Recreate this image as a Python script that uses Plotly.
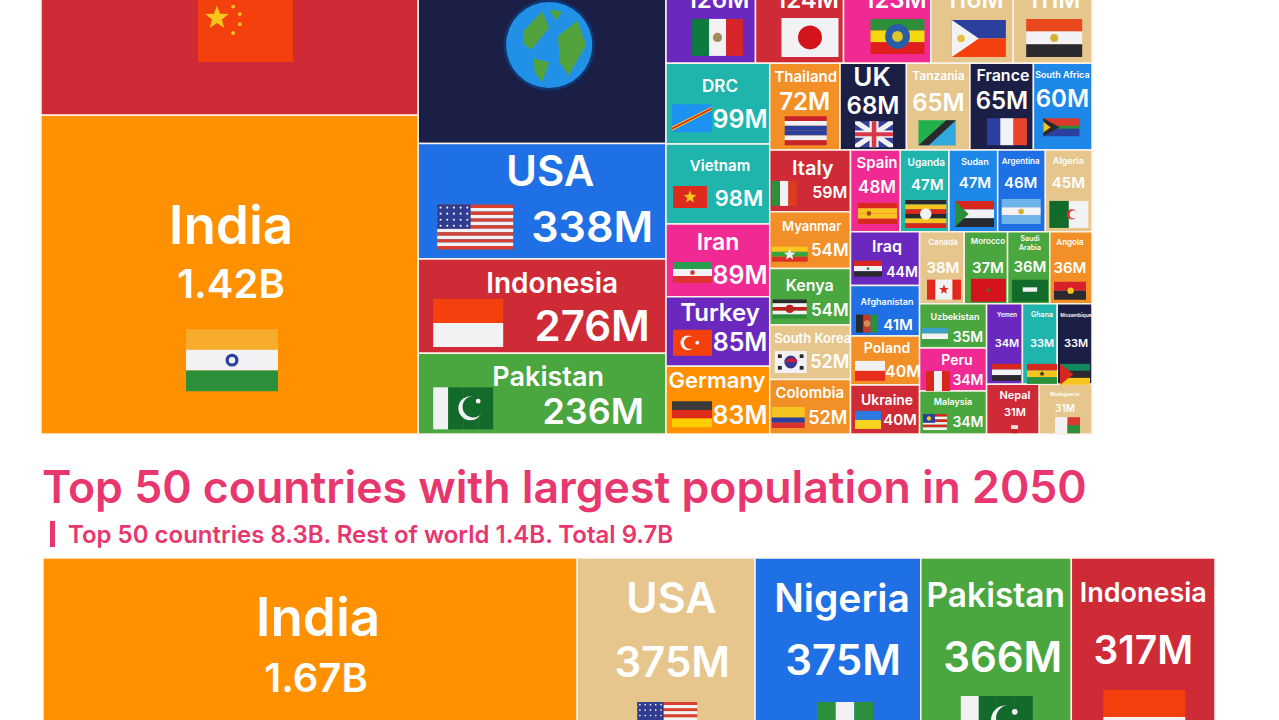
import math
import plotly.graph_objects as go

FONT = "Inter"
PINK = "#E8366F"

RED = "#CE2B37"
ORANGE = "#FF9100"
ORANGE2 = "#F28F26"
NAVY = "#1B1E45"
BLUE = "#1F6FE5"
SKY = "#1E88E8"
GREEN = "#4AA63F"
TAN = "#E6C68C"
PURPLE = "#6A28BE"
MAGENTA = "#F02A92"
TEAL = "#20B5AC"

# 2022 values, millions. Tiles above the crop are still real data.
pop_2022 = {
    "China": 1426, "India": 1420,
    "Rest of world": 1020, "USA": 338, "Indonesia": 276, "Pakistan": 236,
    "Nigeria": 218, "Brazil": 215, "Bangladesh": 171, "Russia": 145,
    "Mexico": 126, "Japan": 124, "Ethiopia": 123, "Philippines": 116, "Egypt": 111,
    "DRC": 99, "Vietnam": 98, "Iran": 89, "Turkey": 85, "Germany": 83,
    "Thailand": 72, "UK": 68, "Tanzania": 65, "France": 65, "South Africa": 60,
    "Italy": 59, "Myanmar": 54, "Kenya": 54, "South Korea": 52, "Colombia": 52,
    "Spain": 48, "Uganda": 47, "Sudan": 47, "Argentina": 46, "Algeria": 45,
    "Iraq": 44, "Afghanistan": 41, "Poland": 40, "Ukraine": 40,
    "Canada": 38, "Morocco": 37, "Saudi Arabia": 36, "Angola": 36,
    "Uzbekistan": 35, "Peru": 34, "Malaysia": 34,
    "Yemen": 34, "Ghana": 33, "Mozambique": 33,
    "Nepal": 31, "Madagascar": 31,
}

# 2050 tiles that show in the crop, and what each tile's column holds in total
names_2050 = ["India", "USA", "Nigeria", "Pakistan", "Indonesia"]
values_2050 = [1670, 375, 375, 366, 317]
column_totals_2050 = [4387, 1460, 1361, 1236, 1180]
colors_2050 = [ORANGE, TAN, BLUE, GREEN, RED]

tile_colors = {
    "China": RED, "India": ORANGE, "Rest of world": NAVY, "USA": BLUE, "Indonesia": RED,
    "Pakistan": GREEN, "Nigeria": GREEN, "Brazil": TEAL, "Bangladesh": PURPLE, "Russia": BLUE,
    "Mexico": PURPLE, "Japan": RED, "Ethiopia": MAGENTA, "Philippines": TAN, "Egypt": TAN,
    "DRC": TEAL, "Vietnam": TEAL, "Iran": MAGENTA, "Turkey": PURPLE, "Germany": ORANGE,
    "Thailand": ORANGE2, "UK": NAVY, "Tanzania": TAN, "France": NAVY, "South Africa": SKY,
    "Italy": RED, "Myanmar": ORANGE2, "Kenya": GREEN, "South Korea": TAN, "Colombia": ORANGE2,
    "Spain": MAGENTA, "Uganda": TEAL, "Sudan": SKY, "Argentina": BLUE, "Algeria": TAN,
    "Iraq": PURPLE, "Afghanistan": BLUE, "Poland": ORANGE2, "Ukraine": RED,
    "Canada": TAN, "Morocco": GREEN, "Saudi Arabia": GREEN, "Angola": ORANGE2,
    "Uzbekistan": GREEN, "Peru": MAGENTA, "Malaysia": GREEN,
    "Yemen": PURPLE, "Ghana": TEAL, "Mozambique": NAVY, "Nepal": RED, "Madagascar": TAN,
}

# How the 2022 tiles nest: "c" splits into columns, "r" into rows
tree_2022 = ("c", [
    ("r", ["China", "India"]),
    ("r", ["Rest of world", "USA", "Indonesia", "Pakistan"]),
    ("r", [
        ("c", ["Nigeria", "Brazil", "Bangladesh", "Russia"]),
        ("c", ["Mexico", "Japan", "Ethiopia", "Philippines", "Egypt"]),
        ("c", [
            ("r", ["DRC", "Vietnam", "Iran", "Turkey", "Germany"]),
            ("r", [
                ("c", ["Thailand", "UK", "Tanzania", "France", "South Africa"]),
                ("c", [
                    ("r", ["Italy", "Myanmar", "Kenya", "South Korea", "Colombia"]),
                    ("r", [
                        ("c", ["Spain", "Uganda", "Sudan", "Argentina", "Algeria"]),
                        ("c", [
                            ("r", ["Iraq", "Afghanistan", "Poland", "Ukraine"]),
                            ("r", [
                                ("c", ["Canada", "Morocco", "Saudi Arabia", "Angola"]),
                                ("c", [
                                    ("r", ["Uzbekistan", "Peru", "Malaysia"]),
                                    ("r", [
                                        ("c", ["Yemen", "Ghana", "Mozambique"]),
                                        ("c", ["Nepal", "Madagascar"]),
                                    ]),
                                ]),
                            ]),
                        ]),
                    ]),
                ]),
            ]),
        ]),
    ]),
])

# Label placement inside a tile, px from its top left corner:
# name (dx, dy, size), value (dx, dy, size), flag (dx, dy, w, h)
labels_2022 = {
    "India": ((190, 110, 53), (190, 169, 40), (145, 214, 92, 62)),
    "China": (None, None, (157, 204, 95, 63)),
    "USA": ((132, 28, 42), (174, 83, 43), (19, 61, 76, 45)),
    "Indonesia": ((134, 24, 28), (174, 67, 42), (15, 40, 70, 48)),
    "Pakistan": ((130, 23, 27), (175, 58, 36), (15, 34, 60, 42)),
    "Rest of world": (None, None, (87, 206, 88, 88)),
    "Mexico": (None, (52, 56, 24), (26, 75, 51, 37)),
    "Japan": (None, (52, 56, 24), (26, 74, 57, 39)),
    "Ethiopia": (None, (52, 56, 24), (27, 75, 54, 35)),
    "Philippines": (None, (44, 56, 24), (21, 76, 54, 37)),
    "Egypt": (None, (41, 56, 24), (13, 75, 56, 38)),
    "DRC": ((54, 23, 17), (74, 56, 25), (6, 41, 40, 28)),
    "Vietnam": ((54, 22, 15), (73, 54, 22), (7, 42, 34, 22)),
    "Iran": ((52, 18, 23), (74, 51, 25), (7, 38, 39, 21)),
    "Turkey": ((54, 16, 24), (74, 45, 25), (7, 33, 39, 26)),
    "Germany": ((51, 14, 22), (74, 49, 25), (6, 35, 40, 26)),
    "Thailand": ((36, 14, 15), (35, 38, 24), (15, 53, 42, 29)),
    "UK": ((32, 14, 26), (33, 42, 24), (15, 58, 38, 26)),
    "Tanzania": ((32, 13, 12), (32, 39, 24), (12, 57, 37, 25)),
    "France": ((33, 12, 16), (32, 37, 24), (17, 55, 40, 27)),
    "South Africa": ((29, 12, 9), (29, 35, 24), (10, 55, 36, 18)),
    "Italy": ((43, 18, 20), (60, 42, 16), (2, 31, 25, 25)),
    "Myanmar": ((42, 15, 13), (60, 38, 17), (2, 35, 36, 15)),
    "Kenya": ((40, 17, 16), (60, 42, 17), (3, 31, 34, 19)),
    "South Korea": ((43, 13, 13), (60, 37, 18), (5, 26, 32, 22)),
    "Colombia": ((40, 13.5, 15), (58, 38.5, 18), (2, 27.5, 33, 21)),
    "Spain": ((26.5, 13, 15), (26.5, 37, 17), (7.5, 53, 39, 21)),
    "Uganda": ((26, 13, 10), (27, 35, 15), (5, 50, 41, 28)),
    "Sudan": ((26, 12, 9), (26, 33, 15), (6, 51, 39, 26)),
    "Argentina": ((23, 11, 8), (23, 33, 15), (4, 49, 39, 25)),
    "Algeria": ((23, 11, 9), (23, 33, 15), (4, 51, 39, 27)),
    "Iraq": ((36.5, 15, 16), (51.5, 40, 14), (3.5, 29, 28, 16)),
    "Afghanistan": ((36.5, 16, 9), (47.5, 39, 15), (5.5, 29, 22, 18)),
    "Poland": ((36.5, 12, 14), (52.5, 36, 16), (4.5, 25, 30, 20)),
    "Ukraine": ((36.5, 15, 14), (49.5, 35, 15), (4.5, 26, 26, 18)),
    "Canada": ((23.4, 11, 8), (23.4, 36, 15), (7.4, 48, 34, 20)),
    "Morocco": ((23.8, 10, 8), (23.8, 36, 15), (6.8, 47, 35, 23)),
    "Saudi Arabia": ((22.4, 11, 7), (22.4, 35, 15), (4.4, 48, 36, 22)),
    "Angola": ((20.2, 11, 8), (20.2, 36, 15), (4.2, 50, 32, 18)),
    "Uzbekistan": ((35.4, 13, 9), (48.4, 33, 14), (2.4, 24, 26, 17)),
    "Peru": ((37.4, 12, 14), (48.4, 32, 14), (6.4, 23, 24, 20)),
    "Malaysia": ((33.4, 11, 9), (48.4, 31, 14), (3.4, 23, 24, 16)),
    "Yemen": ((20.4, 11, 6), (20.4, 39, 11), (5.4, 60, 29, 17)),
    "Ghana": ((19.6, 11, 7), (19.6, 39, 11), (4.6, 60, 30, 20)),
    "Mozambique": ((18.8, 11, 5), (18.8, 39, 11), (2.8, 60, 30, 21)),
    "Nepal": ((28.4, 11, 11), (28.4, 28, 11), (24.4, 41, 7, 8)),
    "Madagascar": ((25.7, 10, 5), (25.7, 24, 10), (15.7, 33, 25, 16)),
}
labels_2050 = {
    "India": ((275, 59, 53), (273, 120, 40), None),
    "USA": ((94, 40, 43), (95, 104, 42), (60, 144, 60, 40)),
    "Nigeria": ((87, 40, 39), (88, 102, 42), (62, 144, 56, 38)),
    "Pakistan": ((75, 37, 33.5), (82, 99, 42), (40, 138, 72, 48)),
    "Indonesia": ((72, 35, 27), (72, 92, 39), (32, 132, 82, 54)),
}

# Flag colours: stripe direction, stripes, extras in flag units (0-1)
F_RED = "#E8301C"
F_GRN = "#2C8F3A"
F_DGR = "#136B2B"
F_WHT = "#F2F2F4"
F_BLU = "#2B3F9E"
F_YEL = "#F7C51E"
F_BLK = "#2A2A2E"
F_ORG = "#F4400C"
flags = {
    "China": ("h", [F_ORG], [("s", .2, .3, .13, F_YEL), ("c", .37, .12, .02, F_YEL), ("c", .44, .24, .02, F_YEL),
                             ("c", .44, .4, .02, F_YEL), ("c", .37, .54, .02, F_YEL)]),
    "India": ("h", ["#F7AC2B", F_WHT, F_GRN], [("c", .5, .5, .07, F_BLU), ("c", .5, .5, .035, F_WHT)]),
    "USA": ("h", ["#D8402F", F_WHT] * 6 + ["#D8402F"], [("r", 0, 0, .44, .54, "#2F3C8F"), ("d", 0, 0, .44, .54, F_WHT)]),
    "Indonesia": ("h", [F_ORG, F_WHT], []),
    "Pakistan": ("v", [F_WHT, F_DGR, F_DGR, F_DGR], [("c", .62, .5, .2, F_WHT), ("c", .67, .46, .18, F_DGR), ("c", .75, .33, .04, F_WHT)]),
    "Rest of world": ("n", [], [("c", .5, .5, .52, "#12346E"), ("c", .5, .5, .49, "#2191E8"),
                                 ("p", [(.2, .35), (.42, .12), (.5, .3), (.3, .55), (.22, .5)], "#52A33E"),
                                 ("p", [(.6, .4), (.82, .22), (.92, .5), (.72, .85), (.62, .7)], "#52A33E"),
                                 ("p", [(.32, .65), (.5, .7), (.42, .92), (.34, .82)], "#52A33E"),
                                 ("p", [(.5, .1), (.65, .12), (.58, .22)], "#52A33E")]),
    "Nigeria": ("v", [F_GRN, F_WHT, F_GRN], []),
    "Mexico": ("v", ["#0D7A40", F_WHT, "#D6262A"], [("c", .5, .5, .09, "#A08A5A")]),
    "Japan": ("h", [F_WHT], [("c", .5, .5, .21, "#D4141C")]),
    "Ethiopia": ("h", [F_GRN, "#F5D90F", "#DF1F1B"], [("c", .5, .5, .23, "#2A5DA8"), ("c", .5, .5, .1, "#E0C52A")]),
    "Philippines": ("h", [F_BLU, F_ORG], [("p", [(0, 0), (.5, .5), (0, 1)], F_WHT), ("c", .17, .5, .07, "#E5C040")]),
    "Egypt": ("h", ["#E8481C", F_WHT, F_BLK], [("c", .5, .5, .07, "#D8B030")]),
    "DRC": ("h", ["#1E92F2"], [("p", [(0, .8), (1, .08), (1, .22), (0, .95)], F_YEL),
                                ("p", [(0, .84), (1, .12), (1, .18), (0, .9)], "#D81E1E")]),
    "Vietnam": ("h", ["#DD2A1E"], [("s", .5, .5, .2, F_YEL)]),
    "Iran": ("h", ["#2A9E50", F_WHT, "#DC3430"], [("c", .5, .5, .06, "#C83A3A")]),
    "Turkey": ("h", [F_ORG], [("c", .38, .5, .19, F_WHT), ("c", .44, .5, .16, F_ORG), ("c", .62, .5, .05, F_WHT)]),
    "Germany": ("h", ["#3A3A3A", "#DD2A1B", "#FFCE00"], []),
    "Thailand": ("h", ["#C8222A", F_WHT, F_BLU, F_BLU, F_WHT, "#C8222A"], []),
    "UK": ("h", ["#34409A"], [("p", [(0, 0), (.12, 0), (1, .88), (1, 1), (.88, 1), (0, .12)], F_WHT),
                               ("p", [(1, 0), (.88, 0), (0, .88), (0, 1), (.12, 1), (1, .12)], F_WHT),
                               ("r", .38, 0, .62, 1, F_WHT), ("r", 0, .36, 1, .64, F_WHT),
                               ("r", .44, 0, .56, 1, "#D8384A"), ("r", 0, .42, 1, .58, "#D8384A")]),
    "Tanzania": ("h", ["#22B14C"], [("p", [(1, 0), (1, 1), (0, 1)], "#33A8DE"),
                                     ("p", [(0, 1), (.75, 0), (1, 0), (1, .02), (.28, 1)], F_BLK)]),
    "France": ("v", ["#2B3F9E", F_WHT, "#E8452C"], []),
    "South Africa": ("h", ["#D8392C", "#2B3F9E"], [("r", .2, .42, 1, .58, F_GRN), ("p", [(0, 0), (.45, .5), (0, 1)], F_BLK),
                                                     ("p", [(0, .2), (.2, .5), (0, .8)], F_YEL)]),
    "Italy": ("v", [F_GRN, F_WHT, "#DD3A1E"], []),
    "Myanmar": ("h", ["#F5C71E", "#3AA33E", "#DB3026"], [("s", .5, .52, .17, F_WHT)]),
    "Kenya": ("h", [F_BLK, F_WHT, "#BB2020", F_WHT, F_GRN], [("c", .5, .5, .12, "#BB2020")]),
    "South Korea": ("h", [F_WHT], [("c", .5, .5, .2, "#3B3688"), ("p", [(.3, .5), (.5, .3), (.7, .4), (.7, .5)], "#C81E3C"),
                                    ("r", .1, .15, .22, .32, F_BLK), ("r", .78, .15, .9, .32, F_BLK),
                                    ("r", .1, .68, .22, .85, F_BLK), ("r", .78, .68, .9, .85, F_BLK)]),
    "Colombia": ("h", ["#F5C71E", "#F5C71E", "#2B3F9E", "#D8302A"], []),
    "Spain": ("h", ["#D8281E", "#F7C51E", "#F7C51E", "#D8281E"], [("c", .28, .5, .06, "#A8451E")]),
    "Uganda": ("h", [F_BLK, F_YEL, "#D8281E", F_BLK, F_YEL, "#D8281E"], [("c", .5, .5, .14, F_WHT)]),
    "Sudan": ("h", ["#D8281E", F_WHT, F_BLK], [("p", [(0, 0), (.35, .5), (0, 1)], F_GRN)]),
    "Argentina": ("h", ["#6EB4EA", F_WHT, "#6EB4EA"], [("c", .5, .5, .07, "#D8B030")]),
    "Algeria": ("v", [F_DGR, F_WHT], [("c", .58, .5, .13, "#DC3030"), ("c", .62, .5, .1, F_WHT)]),
    "Iraq": ("h", ["#D8281E", F_WHT, F_BLK], [("c", .5, .5, .05, F_GRN)]),
    "Afghanistan": ("v", [F_BLK, "#C23A2A", F_GRN], [("c", .5, .5, .15, "#D88A50")]),
    "Poland": ("h", [F_WHT, "#E8301C"], []),
    "Ukraine": ("h", ["#2A78E0", "#F7D51E"], []),
    "Canada": ("v", ["#E0281E", F_WHT, F_WHT, "#E0281E"], [("s", .5, .5, .15, "#E0281E")]),
    "Morocco": ("h", ["#D4141C"], [("c", .5, .5, .05, "#2A7A3A")]),
    "Saudi Arabia": ("h", [F_DGR], [("r", .3, .35, .7, .55, F_WHT)]),
    "Angola": ("h", ["#D8202A", F_BLK], [("c", .52, .5, .1, F_YEL)]),
    "Uzbekistan": ("h", ["#3CA0CA", F_WHT, "#3CA03E"], []),
    "Peru": ("v", ["#D8281E", F_WHT, "#D8281E"], []),
    "Malaysia": ("h", ["#D8281E", F_WHT] * 3, [("r", 0, 0, .5, .55, F_BLU), ("c", .25, .28, .09, F_YEL)]),
    "Yemen": ("h", ["#D8281E", F_WHT, F_BLK], []),
    "Ghana": ("h", ["#D8281E", F_YEL, F_GRN], [("s", .5, .5, .1, F_BLK)]),
    "Mozambique": ("h", ["#138A5E", F_BLK, F_YEL], [("p", [(0, 0), (.45, .5), (0, 1)], "#D8281E")]),
    "Nepal": ("h", ["#E8E0E0", "#C8202A"], []),
    "Madagascar": ("v", [F_WHT, "#D8392C"], [("r", .5, .5, 1, 1, F_GRN)]),
}


def tree_value(node):
    if isinstance(node, str):
        return pop_2022[node]
    return sum(tree_value(child) for child in node[1])


def layout_tree(node, x0, y0, x1, y1, out):
    # split the box in proportion to the values, one level at a time
    if isinstance(node, str):
        out[node] = (x0, y0, x1, y1)
        return
    direction, children = node
    total = tree_value(node)
    pos = x0 if direction == "c" else y0
    for child in children:
        share = tree_value(child) / total
        if direction == "c":
            step = (x1 - x0) * share
            layout_tree(child, pos, y0, pos + step, y1, out)
        else:
            step = (y1 - y0) * share
            layout_tree(child, x0, pos, x1, pos + step, out)
        pos += step


def fmt_value(v):
    return f"{v / 1000:.2f}B" if v >= 1000 else f"{v}M"


def star_path(cx, cy, r):
    pts = []
    for i in range(10):
        rad = r if i % 2 == 0 else r * 0.42
        ang = -math.pi / 2 + i * math.pi / 5
        pts.append((cx + rad * math.cos(ang), cy + rad * math.sin(ang)))
    return pts


def poly(points, color):
    path = "M" + " L".join(f"{x:.2f},{y:.2f}" for x, y in points) + " Z"
    return dict(type="path", path=path, fillcolor=color, line_width=0, xref="x", yref="y")


def box(x0, y0, x1, y1, color):
    return dict(type="rect", x0=x0, y0=y0, x1=x1, y1=y1, fillcolor=color, line_width=0, xref="x", yref="y")


def disc(cx, cy, r, color):
    return dict(type="circle", x0=cx - r, y0=cy - r, x1=cx + r, y1=cy + r,
                fillcolor=color, line_width=0, xref="x", yref="y")


def flag_shapes(name, x, y, w, h):
    direction, stripes, extras = flags[name]
    shapes = []
    for i, color in enumerate(stripes):
        if direction == "h":
            shapes.append(box(x, y + h * i / len(stripes), x + w, y + h * (i + 1) / len(stripes), color))
        elif direction == "v":
            shapes.append(box(x + w * i / len(stripes), y, x + w * (i + 1) / len(stripes), y + h, color))
    for item in extras:
        kind = item[0]
        if kind == "c":
            shapes.append(disc(x + w * item[1], y + h * item[2], w * item[3], item[4]))
        elif kind == "r":
            shapes.append(box(x + w * item[1], y + h * item[2], x + w * item[3], y + h * item[4], item[5]))
        elif kind == "p":
            shapes.append(poly([(x + w * a, y + h * b) for a, b in item[1]], item[2]))
        elif kind == "s":
            shapes.append(poly(star_path(x + w * item[1], y + h * item[2], w * item[3]), item[4]))
        elif kind == "d":
            # rows of small stars in the canton
            for row in range(4):
                for col in range(5):
                    shapes.append(disc(x + w * (item[1] + (col + .5) / 5 * (item[3] - item[1])),
                                       y + h * (item[2] + (row + .5) / 4 * (item[4] - item[2])),
                                       w * .014, item[5]))
    return shapes


rects = {}
layout_tree(tree_2022, 41, -205, 1092, 434, rects)

# 2050 tiles: columns share the width, a tile takes its share of the column
rects_2050 = {}
total_2050 = sum(column_totals_2050)
left = 43
for name, value, col_total in zip(names_2050, values_2050, column_totals_2050):
    col_w = 1172 * col_total / total_2050
    rects_2050[name] = (left, 558, left + col_w, 558 + 639 * value / col_total)
    left += col_w

tile_x, tile_w, tile_base, tile_h, tile_fill, tile_name = [], [], [], [], [], []
text_x, text_y, text_s, text_size = [], [], [], []
shapes = [box(50, 521, 55, 547, PINK)]


def add_tiles(rect_map, values, colors, labels):
    for name, (x0, y0, x1, y1) in rect_map.items():
        tile_x.append((x0 + x1) / 2)
        tile_w.append(x1 - x0)
        tile_base.append(y0)
        tile_h.append(y1 - y0)
        tile_fill.append(colors[name])
        tile_name.append(f"{name} {fmt_value(values[name])}")
        if name not in labels:
            continue
        name_pos, value_pos, flag_pos = labels[name]
        # the text box sits a little high on its centre, hence the nudge by size
        if name_pos:
            text_x.append(x0 + name_pos[0])
            text_y.append(y0 + name_pos[1] + name_pos[2] * 0.1)
            text_s.append("Saudi<br>Arabia" if name == "Saudi Arabia" else name)
            text_size.append(name_pos[2])
        if value_pos:
            text_x.append(x0 + value_pos[0])
            text_y.append(y0 + value_pos[1] + value_pos[2] * 0.1)
            text_s.append(fmt_value(values[name]))
            text_size.append(value_pos[2])
        if flag_pos:
            shapes.extend(flag_shapes(name, x0 + flag_pos[0], y0 + flag_pos[1], flag_pos[2], flag_pos[3]))


add_tiles(rects, pop_2022, tile_colors, labels_2022)
add_tiles(rects_2050, dict(zip(names_2050, values_2050)), dict(zip(names_2050, colors_2050)), labels_2050)

fig = go.Figure()
fig.add_trace(
    go.Bar(
        x=tile_x,
        y=tile_h,
        base=tile_base,
        width=tile_w,
        marker=dict(color=tile_fill, line_width=1.5, line_color="#FBF3EA"),
        hovertext=tile_name,
        hoverinfo="text",
        showlegend=False,
    )
)
fig.add_trace(
    go.Scatter(
        x=text_x,
        y=text_y,
        text=text_s,
        mode="text",
        textposition="middle center",
        textfont=dict(family=FONT, size=text_size, color="white", weight=600),
        hoverinfo="skip",
        showlegend=False,
    )
)

fig.add_annotation(
    text="Top 50 countries 8.3B. Rest of world 1.4B. Total 9.7B",
    x=66, y=534, xref="x", yref="y", xanchor="left", yanchor="middle",
    showarrow=False,
    font=dict(family=FONT, size=24, color=PINK, weight=600),
)

fig.update_layout(
    width=1279,
    height=720,
    margin=dict(t=0, b=0, l=0, r=0),
    paper_bgcolor="white",
    plot_bgcolor="white",
    title=dict(
        text="Top 50 countries with largest population in 2050",
        x=42 / 1279, xref="paper", xanchor="left",
        y=1 - 487 / 720, yref="container", yanchor="middle",
        font=dict(family=FONT, size=44.6, color=PINK, weight=600),
    ),
    xaxis=dict(range=[0, 1279], visible=False, fixedrange=True),
    yaxis=dict(range=[720, 0], visible=False, fixedrange=True),
    shapes=shapes,
    barmode="overlay",
)

fig.write_html("out.html", config=dict(displayModeBar=False), post_script="document.body.style.margin='0';")
